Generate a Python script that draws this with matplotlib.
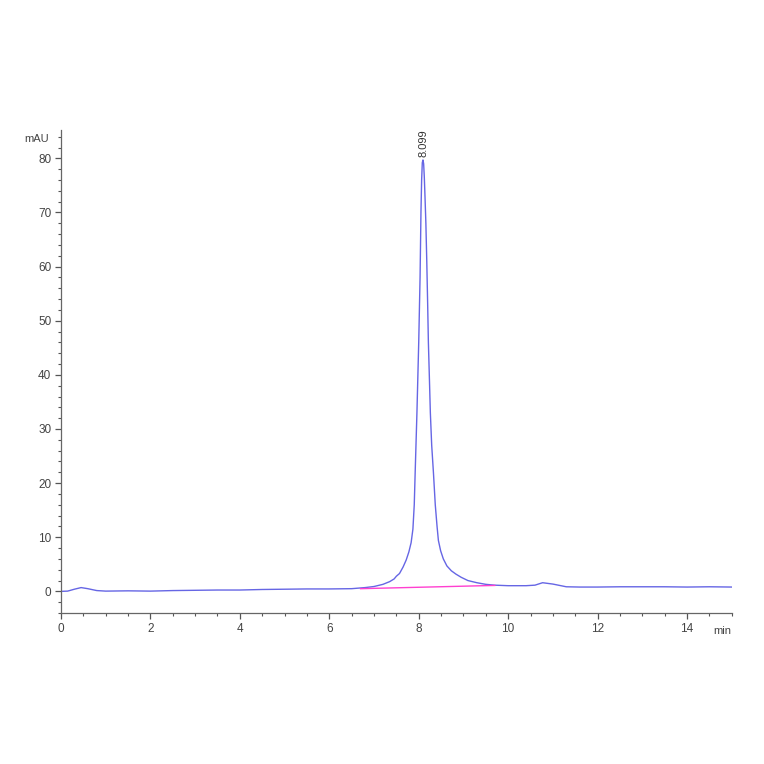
import matplotlib

matplotlib.use("Agg")
import matplotlib.pyplot as plt
from matplotlib.ticker import MultipleLocator

plt.rcParams["font.family"] = ["Liberation Sans", "DejaVu Sans"]

# ── Chromatogram trace
time_min = [
    0.0, 0.15, 0.3, 0.45, 0.6, 0.8, 1.0, 1.5, 2.0, 2.5, 3.0, 3.5, 4.0, 4.5,
    5.0, 5.5, 6.0, 6.5, 6.8, 7.0, 7.2, 7.35, 7.45, 7.5, 7.57, 7.65, 7.72,
    7.78, 7.83, 7.87, 7.90, 7.92, 7.96, 8.0, 8.03, 8.05, 8.065, 8.08, 8.095,
    8.11, 8.125, 8.14, 8.16, 8.18, 8.20, 8.216, 8.24, 8.26, 8.29, 8.33,
    8.37, 8.41, 8.44, 8.49, 8.55, 8.63, 8.73, 8.83, 8.95, 9.1, 9.3, 9.5,
    9.7, 10.0, 10.4, 10.6, 10.77, 11.0, 11.3, 11.6, 12.0, 12.5, 13.0, 13.5,
    14.0, 14.5, 15.0,
]
signal_mau = [
    0.0, 0.05, 0.4, 0.7, 0.5, 0.15, 0.05, 0.1, 0.05, 0.15, 0.2, 0.25, 0.25,
    0.35, 0.4, 0.45, 0.45, 0.5, 0.7, 0.9, 1.3, 1.8, 2.3, 2.8, 3.3, 4.5, 5.8,
    7.3, 9.0, 11.5, 16.0, 21.8, 33.0, 46.0, 58.0, 70.0, 76.0, 79.2, 79.7,
    79.0, 76.5, 73.0, 68.0, 61.0, 53.0, 46.0, 39.0, 33.0, 27.0, 21.8, 16.0,
    12.0, 9.4, 7.5, 6.0, 4.7, 3.8, 3.2, 2.6, 2.0, 1.6, 1.3, 1.15, 1.05,
    1.05, 1.15, 1.6, 1.35, 0.85, 0.8, 0.8, 0.85, 0.85, 0.85, 0.8, 0.85, 0.8,
]

# integration baseline under the main peak
baseline_t = [6.7, 9.7]
baseline_v = [0.5, 1.1]

peak_time = 8.099
peak_height = 79.7

fig = plt.figure(figsize=(7.64, 7.64), dpi=100)
ax = fig.add_axes([0.0798, 0.1976, 0.878, 0.632])

ax.plot(time_min, signal_mau, color="#4b4be0", linewidth=1.0, alpha=0.85)
ax.plot(baseline_t, baseline_v, color="#ff40d0", linewidth=1.0)

ax.text(peak_time, peak_height + 0.6, f"{peak_time:.3f}", rotation=90,
        ha="center", va="bottom", fontsize=8, color="#333333")

ax.set_xlim(0, 15)
ax.set_ylim(-4, 85.2)
ax.xaxis.set_major_locator(MultipleLocator(2))
ax.xaxis.set_minor_locator(MultipleLocator(0.5))
ax.yaxis.set_major_locator(MultipleLocator(10))
ax.yaxis.set_minor_locator(MultipleLocator(2))

for side in ("top", "right"):
    ax.spines[side].set_visible(False)
for side in ("left", "bottom"):
    ax.spines[side].set_color("#666666")
    ax.spines[side].set_linewidth(0.9)

ax.tick_params(which="major", length=4, width=0.9, color="#555555",
               labelsize=8.5, labelcolor="#444444", pad=3)
ax.tick_params(which="minor", length=2.5, width=0.8, color="#555555")

ax.annotate("mAU", xy=(0, 1), xycoords="axes fraction", xytext=(-9, -6),
            textcoords="offset points", ha="right", va="center",
            fontsize=8, color="#444444")
ax.annotate("min", xy=(1, 0), xycoords="axes fraction", xytext=(0, -13),
            textcoords="offset points", ha="right", va="center",
            fontsize=8, color="#444444")

fig.savefig("out.png", dpi=100)
